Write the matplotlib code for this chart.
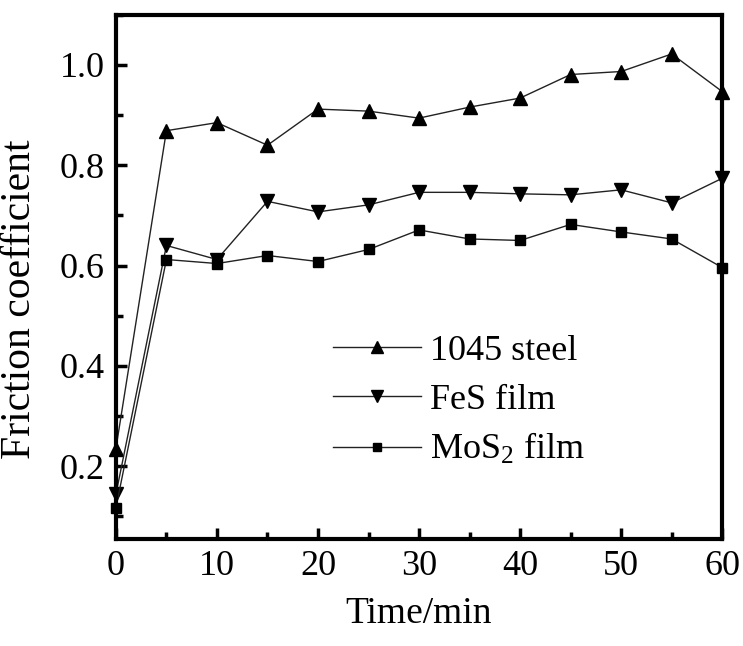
import matplotlib.pyplot as plt
from matplotlib.ticker import MultipleLocator

time_min = [0, 5, 10, 15, 20, 25, 30, 35, 40, 45, 50, 55, 60]
steel_1045 = [0.235, 0.869, 0.885, 0.840, 0.912, 0.908, 0.894, 0.916, 0.934, 0.981, 0.987, 1.022, 0.947]
fes_film = [0.144, 0.640, 0.612, 0.728, 0.707, 0.721, 0.746, 0.746, 0.743, 0.741, 0.751, 0.725, 0.774]
mos2_film = [0.117, 0.612, 0.604, 0.620, 0.608, 0.632, 0.671, 0.653, 0.650, 0.682, 0.667, 0.653, 0.596]

labels = ['1045 steel', 'FeS film', 'MoS$_2$ film']

plt.rcParams['font.family'] = ['Liberation Serif', 'DejaVu Serif']
plt.rcParams['mathtext.fontset'] = 'custom'
plt.rcParams['mathtext.rm'] = 'Liberation Serif'
plt.rcParams['mathtext.it'] = 'Liberation Serif:italic'

fig = plt.figure(figsize=(7.43, 6.46), dpi=100)
ax = fig.add_axes([0.156, 0.166, 0.816, 0.811])

line_kw = dict(color='#222222', linewidth=1.0, markeredgecolor='black', markerfacecolor='black', clip_on=False)
ax.plot(time_min, steel_1045, marker='^', markersize=10, label=labels[0], **line_kw)
ax.plot(time_min, fes_film, marker='v', markersize=10, label=labels[1], **line_kw)
ax.plot(time_min, mos2_film, marker='s', markersize=7, label=labels[2], **line_kw)

ax.set_xlim(0, 60)
ax.set_ylim(0.055, 1.1)
ax.xaxis.set_major_locator(MultipleLocator(10))
ax.xaxis.set_minor_locator(MultipleLocator(5))
ax.yaxis.set_major_locator(MultipleLocator(0.2))
ax.yaxis.set_minor_locator(MultipleLocator(0.1))
ax.yaxis.set_major_formatter(plt.FuncFormatter(lambda v, p: '{:.1f}'.format(v)))

for s in ax.spines.values():
  s.set_linewidth(3)

ax.tick_params(which='major', direction='in', length=8, width=2.5, labelsize=26, pad=8)
ax.tick_params(which='minor', direction='in', length=5, width=2.5)
ax.tick_params(top=False, right=False, which='both')

ax.set_xlabel('Time/min', fontsize=27, labelpad=10)
ax.set_ylabel('Friction coefficient', fontsize=30)
ax.yaxis.set_label_coords(-0.127, 0.458)

ax.legend(loc='upper left', bbox_to_anchor=(0.358, 0.39), frameon=False, fontsize=26,
          handlelength=2.45, handletextpad=0.25, labelspacing=0.43, borderaxespad=0, borderpad=0,
          markerscale=0.9)

fig.savefig('out.png', dpi=100)
